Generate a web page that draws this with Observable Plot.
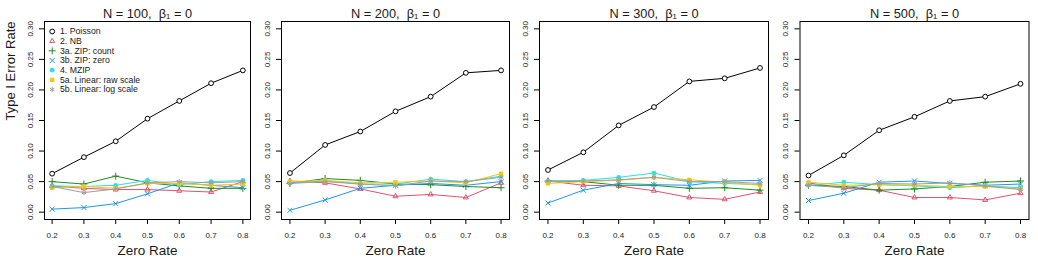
<!DOCTYPE html>
<html>
<head>
<meta charset="utf-8">
<script src="https://cdn.jsdelivr.net/npm/d3@7"></script>
<script src="https://cdn.jsdelivr.net/npm/@observablehq/plot@0.6"></script>
<style>
  html, body { margin: 0; padding: 0; background: #fff; }
  #chart { position: relative; width: 1038px; height: 260px; font-family: "Liberation Sans", Arial, sans-serif; }
  #chart > div { position: absolute; top: 0; }
  svg { overflow: visible; }
  svg text { font-weight: normal; }
</style>
</head>
<body>
<div id="chart"></div>
<script>
// ---- data ----
const zeroRates = [0.2, 0.3, 0.4, 0.5, 0.6, 0.7, 0.8];
const sampleSizes = [100, 200, 300, 500];
const methods = ["1. Poisson", "2. NB", "3a. ZIP: count", "3b. ZIP: zero", "4. MZIP", "5a. Linear: raw scale", "5b. Linear: log scale"];
const yTicks = [0, 0.05, 0.10, 0.15, 0.20, 0.25, 0.30];

// Type I error rates, one array per method, per sample size
const n100_poisson = [0.063, 0.090, 0.116, 0.153, 0.182, 0.211, 0.232];
const n100_nb      = [0.043, 0.039, 0.037, 0.037, 0.035, 0.033, 0.050];
const n100_zipCnt  = [0.050, 0.046, 0.059, 0.048, 0.043, 0.039, 0.039];
const n100_zipZero = [0.005, 0.0075, 0.014, 0.030, 0.048, 0.044, 0.040];
const n100_mzip    = [0.043, 0.042, 0.044, 0.052, 0.045, 0.050, 0.052];
const n100_linRaw  = [0.040, 0.042, 0.039, 0.047, 0.047, 0.044, 0.046];
const n100_linLog  = [0.042, 0.032, 0.038, 0.048, 0.050, 0.048, 0.050];

const n200_poisson = [0.064, 0.110, 0.132, 0.165, 0.189, 0.228, 0.232];
const n200_nb      = [0.051, 0.048, 0.038, 0.026, 0.029, 0.024, 0.048];
const n200_zipCnt  = [0.047, 0.055, 0.052, 0.046, 0.045, 0.042, 0.040];
const n200_zipZero = [0.003, 0.020, 0.039, 0.044, 0.047, 0.044, 0.050];
const n200_mzip    = [0.048, 0.051, 0.046, 0.046, 0.054, 0.050, 0.059];
const n200_linRaw  = [0.050, 0.052, 0.048, 0.049, 0.051, 0.048, 0.063];
const n200_linLog  = [0.047, 0.050, 0.046, 0.043, 0.051, 0.050, 0.057];

const n300_poisson = [0.069, 0.098, 0.142, 0.172, 0.214, 0.219, 0.236];
const n300_nb      = [0.051, 0.044, 0.043, 0.035, 0.024, 0.021, 0.033];
const n300_zipCnt  = [0.051, 0.050, 0.044, 0.044, 0.039, 0.040, 0.036];
const n300_zipZero = [0.015, 0.036, 0.047, 0.045, 0.044, 0.051, 0.052];
const n300_mzip    = [0.050, 0.052, 0.057, 0.064, 0.050, 0.047, 0.045];
const n300_linRaw  = [0.047, 0.050, 0.052, 0.057, 0.053, 0.049, 0.044];
const n300_linLog  = [0.051, 0.051, 0.053, 0.057, 0.050, 0.050, 0.047];

const n500_poisson = [0.060, 0.093, 0.134, 0.156, 0.182, 0.189, 0.210];
const n500_nb      = [0.048, 0.039, 0.036, 0.024, 0.024, 0.020, 0.031];
const n500_zipCnt  = [0.044, 0.042, 0.036, 0.038, 0.042, 0.049, 0.051];
const n500_zipZero = [0.019, 0.031, 0.049, 0.051, 0.047, 0.044, 0.046];
const n500_mzip    = [0.044, 0.049, 0.045, 0.043, 0.040, 0.043, 0.040];
const n500_linRaw  = [0.049, 0.044, 0.045, 0.044, 0.042, 0.042, 0.038];
const n500_linLog  = [0.044, 0.040, 0.047, 0.046, 0.048, 0.043, 0.037];

const panelValues = [
  [n100_poisson, n100_nb, n100_zipCnt, n100_zipZero, n100_mzip, n100_linRaw, n100_linLog],
  [n200_poisson, n200_nb, n200_zipCnt, n200_zipZero, n200_mzip, n200_linRaw, n200_linLog],
  [n300_poisson, n300_nb, n300_zipCnt, n300_zipZero, n300_mzip, n300_linRaw, n300_linLog],
  [n500_poisson, n500_nb, n500_zipCnt, n500_zipZero, n500_mzip, n500_linRaw, n500_linLog]
];

// ---- styles ----
const colors  = ["#000000", "#DF536B", "#228B22", "#2297E6", "#28E2E5", "#F5C710", "#9E9E9E"];
const symbols = ["circle", "triangle2", "plus", "times", "circle", "square", "asterisk"];
const filled  = [false, false, false, false, true, true, false];
const FONT = "Liberation Sans, Arial, Helvetica, sans-serif";
const TEXT = "#1a1a1a";

const panelLayout = [
  {left: 0,     marginLeft: 44,   marginRight: 9.5},
  {left: 259.5, marginLeft: 21,   marginRight: 10.5},
  {left: 519,   marginLeft: 20,   marginRight: 10.5},
  {left: 778.5, marginLeft: 20.5, marginRight: 10}
];

const chart = document.getElementById("chart");

sampleSizes.forEach((N, p) => {
  const L = panelLayout[p];
  const rows = [];
  methods.forEach((m, i) => {
    zeroRates.forEach((z, j) => rows.push({method: m, idx: i, zero: z, rate: panelValues[p][i][j]}));
  });

  const marks = [];
  methods.forEach((m, i) => {
    const d = rows.filter(r => r.idx === i);
    marks.push(Plot.line(d, {x: "zero", y: "rate", stroke: colors[i], strokeWidth: 1}));
    marks.push(Plot.dot(d, {
      x: "zero", y: "rate", symbol: () => symbols[i], r: 2.4,
      stroke: filled[i] ? "none" : colors[i],
      fill: filled[i] ? colors[i] : (i === 0 ? "white" : "none"),
      strokeWidth: 1
    }));
  });

  marks.push(Plot.frame({stroke: "#000", strokeWidth: 1}));
  marks.push(Plot.axisX({ticks: zeroRates, tickSize: 5, tickPadding: 8, tickFormat: d3.format(".1f"), fontSize: 8, label: null, stroke: "#000", fill: TEXT}));
  marks.push(Plot.axisY({ticks: yTicks, tickSize: 5, tickPadding: 7, tickRotate: -90, tickFormat: d3.format(".2f"), fontSize: 8, label: null, stroke: "#000", fill: TEXT}));
  marks.push(Plot.text([`N = ${N},  β\u2081 = 0`], {frameAnchor: "top", dy: -12.5, fontSize: 12.8, fill: TEXT}));
  marks.push(Plot.text(["Zero Rate"], {frameAnchor: "bottom", dy: 35.5, fontSize: 13.5, fill: TEXT}));
  if (p === 0) {
    marks.push(Plot.text(["Type I Error Rate"], {frameAnchor: "left", dx: -34, rotate: -90, fontSize: 13, fill: TEXT}));
    // legend
    methods.forEach((m, i) => {
      marks.push(Plot.dot([m], {frameAnchor: "top-left", dx: 7.7, dy: 10 + i * 9.67, symbol: () => symbols[i], r: 2.4,
        stroke: filled[i] ? "none" : colors[i], fill: filled[i] ? colors[i] : "none", strokeWidth: 1}));
      marks.push(Plot.text([m], {frameAnchor: "top-left", dx: 15.5, dy: 10 + i * 9.67, text: d => d, textAnchor: "start", lineAnchor: "middle", fontSize: 8.7, fill: TEXT}));
    });
  }

  const plot = Plot.plot({
    width: 259.5,
    height: 260,
    marginLeft: L.marginLeft,
    marginRight: L.marginRight,
    marginTop: 21,
    marginBottom: 41,
    style: {fontFamily: FONT, background: "white", color: "#000"},
    x: {domain: [0.176, 0.824]},
    y: {domain: [-0.012, 0.312]},
    marks
  });
  const holder = document.createElement("div");
  holder.style.left = L.left + "px";
  holder.appendChild(plot);
  chart.appendChild(holder);
});
</script>
</body>
</html>
